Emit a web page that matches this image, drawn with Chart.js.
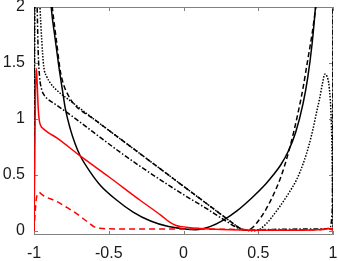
<!DOCTYPE html>
<html>
<head>
<meta charset="utf-8">
<script src="https://cdn.jsdelivr.net/npm/chart.js@4.4.0/dist/chart.umd.min.js"></script>
<style>
  body { margin: 0; background: #fff; }
  canvas { display: block; }
</style>
</head>
<body>
<canvas id="chart" width="338" height="261"></canvas>
<script>
// axis ticks
const tickX = [-1, -0.5, 0, 0.5, 1];
const tickXLabels = ['-1', '-0.5', '0', '0.5', '1'];
const tickY = [0, 0.5, 1, 1.5, 2];
const tickYLabels = ['0', '0.5', '1', '1.5', '2'];

// black solid
const solidX = [-0.895, -0.885, -0.86, -0.835, -0.81, -0.79, -0.757, -0.725, -0.69, -0.62, -0.557, -0.45, -0.337, -0.22, -0.10, 0.0, 0.08, 0.177, 0.27, 0.357, 0.46, 0.55, 0.6, 0.65, 0.7, 0.75, 0.8, 0.83, 0.86, 0.883, 0.9];
const solidY = [2.2, 2.0, 1.73, 1.48, 1.26, 1.09, 0.91, 0.78, 0.67, 0.52, 0.41, 0.28, 0.17, 0.09, 0.04, 0.02, 0.012, 0.04, 0.10, 0.18, 0.30, 0.42, 0.50, 0.59, 0.71, 0.88, 1.14, 1.36, 1.67, 2.0, 2.3];

// black dashed
const dashX = [-0.89, -0.878, -0.85, -0.823, -0.80, -0.77, -0.737, -0.6, -0.45, -0.289, 0.0, 0.2, 0.33, 0.377, 0.41, 0.43, 0.46, 0.50, 0.55, 0.60, 0.645, 0.68, 0.71, 0.74, 0.77, 0.80, 0.83, 0.86, 0.89, 0.90];
const dashY = [2.15, 2.0, 1.7, 1.42, 1.30, 1.21, 1.14, 1.0, 0.85, 0.689, 0.40, 0.20, 0.07, 0.025, 0.01, 0.008, 0.03, 0.09, 0.19, 0.32, 0.46, 0.60, 0.74, 0.90, 1.08, 1.28, 1.52, 1.76, 2.05, 2.15];

// black dotted
const dotX = [-1.0, -0.997, -0.993, -0.975, -0.965, -0.96, -0.948, -0.935, -0.915, -0.89, -0.85, -0.75, -0.6, -0.45, -0.289, 0.0, 0.2, 0.33, 0.377, 0.41, 0.44, 0.47, 0.49, 0.55, 0.60, 0.65, 0.70, 0.757, 0.80, 0.84, 0.866, 0.89, 0.91, 0.93, 0.945, 0.96, 0.975, 0.988, 0.995, 1.0];
const dotY = [0.0, 1.2, 2.3, 2.6, 2.15, 2.0, 1.7, 1.47, 1.38, 1.32, 1.26, 1.155, 1.0, 0.85, 0.689, 0.40, 0.20, 0.07, 0.025, 0.01, 0.004, 0.003, 0.005, 0.06, 0.14, 0.23, 0.33, 0.46, 0.60, 0.77, 0.91, 1.06, 1.18, 1.32, 1.40, 1.38, 1.28, 1.0, 0.6, 0.0];

// black dash-dot
const dashDotX = [-1.0, -0.998, -0.995, -0.985, -0.979, -0.972, -0.963, -0.95, -0.93, -0.91, -0.85, -0.75, -0.65, -0.557, -0.42, -0.29, -0.1, 0.0, 0.155, 0.26, 0.355, 0.40, 0.44, 0.5, 0.6, 0.8, 0.95, 0.98, 0.993, 0.998, 1.0];
const dashDotY = [0.0, 1.2, 2.4, 2.3, 2.0, 1.6, 1.38, 1.27, 1.21, 1.18, 1.125, 1.03, 0.93, 0.836, 0.70, 0.578, 0.41, 0.325, 0.20, 0.11, 0.033, 0.012, 0.008, 0.012, 0.015, 0.018, 0.02, 0.03, 0.15, 0.8, 2.5];

// red solid
const redX = [-1.0, -0.995, -0.99, -0.984, -0.978, -0.972, -0.965, -0.955, -0.935, -0.9, -0.845, -0.7, -0.5, -0.29, -0.15, -0.09, -0.05, -0.023, 0.03, 0.11, 0.25, 0.5, 0.75, 0.9, 0.97, 0.995, 1.0];
const redY = [0.0, 0.6, 1.25, 1.45, 1.3, 1.1, 0.99, 0.94, 0.91, 0.875, 0.83, 0.68, 0.485, 0.275, 0.14, 0.077, 0.05, 0.042, 0.032, 0.024, 0.015, 0.008, 0.008, 0.012, 0.02, 0.02, 0.01];

// red dashed
const redDashX = [-1.0, -0.993, -0.985, -0.975, -0.965, -0.95, -0.935, -0.85, -0.779, -0.72, -0.67, -0.63, -0.6, -0.56, -0.5, -0.2, 0.2, 0.6, 0.9, 0.97, 1.0];
const redDashY = [0.0, 0.15, 0.28, 0.335, 0.345, 0.33, 0.315, 0.265, 0.21, 0.16, 0.11, 0.07, 0.04, 0.025, 0.02, 0.019, 0.017, 0.012, 0.012, 0.018, 0.01];

const pts = (xs, ys) => xs.map((x, i) => ({ x: x, y: ys[i] }));

const line = (label, xs, ys, color, dash) => ({
    label: label,
    data: pts(xs, ys),
    borderColor: color,
    borderWidth: 1.5,
    borderDash: dash,
    pointRadius: 0,
    fill: false,
    cubicInterpolationMode: 'monotone'
});

// frame with inward ticks on all four sides
const framePlugin = {
    id: 'frame',
    beforeDatasetsDraw(chart) {
        const { ctx, chartArea: a, scales } = chart;
        const len = 4;
        ctx.save();
        ctx.strokeStyle = '#808080';
        ctx.lineWidth = 1;
        ctx.beginPath();
        ctx.rect(a.left + 0.5, a.top + 0.5, a.right - a.left - 1, a.bottom - a.top - 1);
        tickX.forEach(v => {
            const px = Math.round(scales.x.getPixelForValue(v)) + 0.5;
            ctx.moveTo(px, a.bottom); ctx.lineTo(px, a.bottom - len);
            ctx.moveTo(px, a.top); ctx.lineTo(px, a.top + len);
        });
        tickY.forEach(v => {
            const py = Math.round(scales.y.getPixelForValue(v)) + 0.5;
            ctx.moveTo(a.left, py); ctx.lineTo(a.left + len, py);
            ctx.moveTo(a.right, py); ctx.lineTo(a.right - len, py);
        });
        ctx.stroke();
        ctx.restore();
    }
};

const font = { family: 'Liberation Sans', size: 16 };

new Chart(document.getElementById('chart'), {
    type: 'line',
    data: {
        datasets: [
            line('red', redX, redY, '#ff0000', []),
            line('red dashed', redDashX, redDashY, '#ff0000', [6, 4]),
            line('solid', solidX, solidY, '#000000', []),
            line('dashed', dashX, dashY, '#000000', [5, 3]),
            line('dotted', dotX, dotY, '#000000', [1.5, 1.5]),
            line('dash-dot', dashDotX, dashDotY, '#000000', [5, 2, 1.5, 2])
        ]
    },
    options: {
        responsive: false,
        animation: false,
        devicePixelRatio: 1,
        layout: { padding: { top: 7, right: 5, left: 0, bottom: 0 } },
        plugins: { legend: { display: false }, tooltip: { enabled: false } },
        scales: {
            x: {
                type: 'linear',
                min: -1,
                max: 1,
                afterBuildTicks: s => { s.ticks = tickX.map(v => ({ value: v })); },
                afterFit: s => { s.height = 26; s.paddingLeft = 0; s.paddingRight = 0; },
                ticks: {
                    callback: (v, i) => tickXLabels[i],
                    font: font,
                    color: '#1a1a1a',
                    padding: 9,
                    maxRotation: 0,
                    autoSkip: false
                },
                grid: { display: false, drawTicks: false },
                border: { display: false }
            },
            y: {
                type: 'linear',
                min: -0.035,
                max: 2,
                afterBuildTicks: s => { s.ticks = tickY.map(v => ({ value: v })); },
                afterFit: s => { s.width = 34; s.paddingTop = 0; s.paddingBottom = 0; },
                ticks: {
                    callback: (v, i) => tickYLabels[i],
                    font: font,
                    color: '#1a1a1a',
                    padding: 9,
                    autoSkip: false
                },
                grid: { display: false, drawTicks: false },
                border: { display: false }
            }
        }
    },
    plugins: [framePlugin]
});
</script>
</body>
</html>
